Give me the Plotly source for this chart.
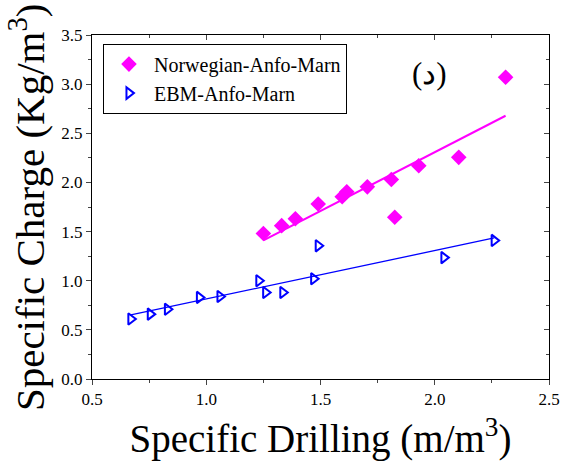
import numpy as np
import plotly.graph_objects as go

nor_x = [1.25, 1.33, 1.39, 1.49, 1.595, 1.615, 1.705, 1.81, 1.825, 1.93, 2.105, 2.31]
nor_y = [1.48, 1.56, 1.63, 1.78, 1.855, 1.905, 1.955, 2.03, 1.645, 2.17, 2.255, 3.07]
ebm_x = [0.67, 0.755, 0.83, 0.97, 1.06, 1.23, 1.26, 1.335, 1.47, 1.49, 2.04, 2.26]
ebm_y = [0.61, 0.66, 0.71, 0.83, 0.84, 1.0, 0.88, 0.88, 1.02, 1.355, 1.235, 1.41]

font = "Liberation Serif"

def fit(xs, ys):
    k, b = np.polyfit(xs, ys, 1)
    lx = np.array([min(xs), max(xs)])
    return lx, k * lx + b

fig = go.Figure()
lx, ly = fit(nor_x, nor_y)
fig.add_trace(go.Scatter(x=lx, y=ly, mode="lines", line=dict(color="#ff00ff", width=2), showlegend=False))
lx2, ly2 = fit(ebm_x, ebm_y)
fig.add_trace(go.Scatter(x=lx2, y=ly2, mode="lines", line=dict(color="#0000ff", width=1.3), showlegend=False))
fig.add_trace(go.Scatter(x=nor_x, y=nor_y, mode="markers", name="Norwegian-Anfo-Marn",
                         marker=dict(symbol="diamond", size=12, color="#ff00ff")))
fig.add_trace(go.Scatter(x=ebm_x, y=ebm_y, mode="markers", name="EBM-Anfo-Marn",
                         marker=dict(symbol="triangle-right-open", size=10, color="#0000ff",
                                     line=dict(width=2, color="#0000ff"))))
fig.add_trace(go.Scatter(x=[0.5], y=[0], xaxis="x2", yaxis="y2", mode="markers",
                         marker=dict(opacity=0), showlegend=False, hoverinfo="skip"))

ax_common = dict(showline=True, linecolor="black", linewidth=1, showgrid=False, zeroline=False,
                 automargin=False)
tf = dict(size=17, family=font, color="black")
fig.update_layout(
    width=566, height=466,
    margin=dict(l=92, r=17, t=35, b=87),
    paper_bgcolor="white", plot_bgcolor="white",
    font=dict(family=font, color="black"),
    xaxis=dict(range=[0.5, 2.5], dtick=0.5, tickformat=".1f", ticks="outside", ticklen=5,
               tickfont=tf, mirror=True,
               minor=dict(dtick=0.25, ticks="outside", ticklen=3),
               title=dict(text="Specific Drilling (m/m<sup>3</sup>)",
                          font=dict(size=39, family=font), standoff=16),
               **ax_common),
    yaxis=dict(range=[0, 3.5], dtick=0.5, tickformat=".1f", ticks="outside", ticklen=5,
               tickfont=tf, mirror=True,
               minor=dict(dtick=0.25, ticks="outside", ticklen=3),
               **ax_common),
    xaxis2=dict(range=[0.5, 2.5], dtick=0.5, overlaying="x", side="top", anchor="y",
                ticks="inside", ticklen=5, showticklabels=False, automargin=False,
                minor=dict(dtick=0.25, ticks="inside", ticklen=3), showgrid=False, zeroline=False),
    yaxis2=dict(range=[0, 3.5], dtick=0.5, overlaying="y", side="right", anchor="x",
                ticks="inside", ticklen=5, showticklabels=False, automargin=False,
                minor=dict(dtick=0.25, ticks="inside", ticklen=3), showgrid=False, zeroline=False),
    legend=dict(x=0.024, y=0.975, xanchor="left", yanchor="top", bgcolor="white",
                bordercolor="black", borderwidth=1, font=dict(size=20, family=font),
                itemwidth=40, tracegroupgap=0),
    annotations=[
        dict(text="(د)", x=0.782, y=0.945, xref="paper", yref="paper",
             showarrow=False, font=dict(size=31, family=font)),
        dict(text="Specific Charge (Kg/m<sup>3</sup>)", x=-0.142, y=0.5, xref="paper", yref="paper",
             xanchor="center", yanchor="middle", textangle=-90, showarrow=False,
             font=dict(size=41, family=font)),
    ],
)

fig.write_html("out.html", post_script="document.body.style.margin='0';",
               config={"displayModeBar": False})
